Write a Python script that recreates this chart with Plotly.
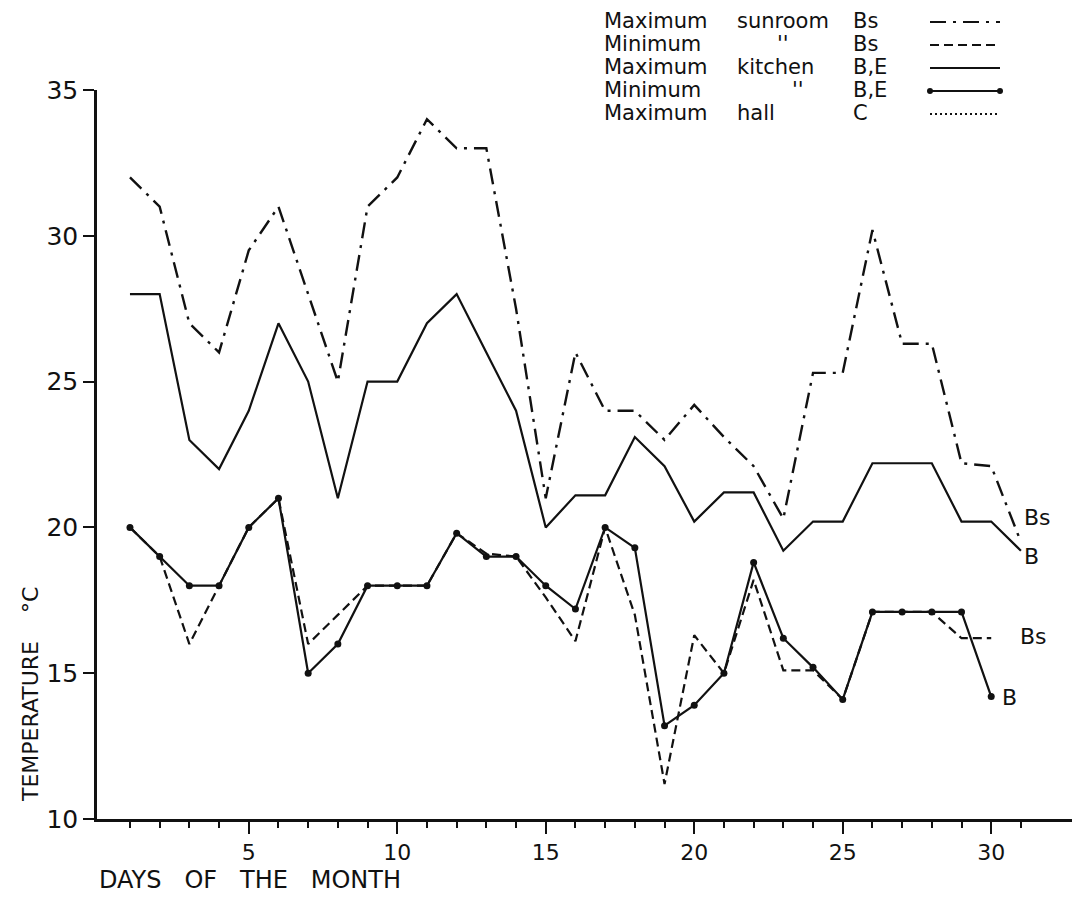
import plotly.graph_objects as go

# ---------------- data ----------------
days = list(range(1, 32))
days30 = list(range(1, 31))

sunroom_max = [32, 31, 27, 26, 29.5, 31, 28, 25, 31, 32, 34, 33, 33, 27.5, 21, 26,
               24, 24, 23, 24.2, 23.1, 22.1, 20.3, 25.3, 25.3, 30.2, 26.3, 26.3,
               22.2, 22.1, 19.5]
sunroom_min = [20, 19, 16, 18, 20, 21, 16, 17, 18, 18, 18, 19.8, 19.1, 19, 17.6, 16.1,
               20, 17, 11.2, 16.3, 15, 18.2, 15.1, 15.1, 14.1, 17.1, 17.1, 17.1,
               16.2, 16.2]
kitchen_max = [28, 28, 23, 22, 24, 27, 25, 21, 25, 25, 27, 28, 26, 24, 20, 21.1,
               21.1, 23.1, 22.1, 20.2, 21.2, 21.2, 19.2, 20.2, 20.2, 22.2, 22.2, 22.2,
               20.2, 20.2, 19.2]
kitchen_min = [20, 19, 18, 18, 20, 21, 15, 16, 18, 18, 18, 19.8, 19, 19, 18, 17.2,
               20, 19.3, 13.2, 13.9, 15, 18.8, 16.2, 15.2, 14.1, 17.1, 17.1, 17.1,
               17.1, 14.2]

y_ticks = [10, 15, 20, 25, 30, 35]
x_ticks = [5, 10, 15, 20, 25, 30]

legend_rows = [
    ("Maximum", "sunroom", "Bs"),
    ("Minimum", "''", "Bs"),
    ("Maximum", "kitchen", "B,E"),
    ("Minimum", "''", "B,E"),
    ("Maximum", "hall", "C"),
]

# ---------------- styles ----------------
FONT = "DejaVu Sans"
INK = "#111111"
DASHDOT = "16px,7px,3px,7px"
DASHED = "9px,5px"
DOTTED = "2px,3px"

W, H = 1072, 901
PL, PR, PT, PB = 97, 1072, 90, 819


def px(x):
    return (x - PL) / (PR - PL)


def py(y):
    return (PB - y) / (PB - PT)


fig = go.Figure()

fig.add_trace(go.Scatter(x=days, y=sunroom_max, mode="lines",
                         line=dict(color=INK, width=2.4, dash=DASHDOT),
                         name="Maximum sunroom Bs", showlegend=False))
fig.add_trace(go.Scatter(x=days30, y=sunroom_min, mode="lines",
                         line=dict(color=INK, width=2.2, dash=DASHED),
                         name="Minimum sunroom Bs", showlegend=False))
fig.add_trace(go.Scatter(x=days, y=kitchen_max, mode="lines",
                         line=dict(color=INK, width=2.2),
                         name="Maximum kitchen B,E", showlegend=False))
fig.add_trace(go.Scatter(x=days30, y=kitchen_min, mode="lines+markers",
                         line=dict(color=INK, width=2.2),
                         marker=dict(color=INK, size=7),
                         name="Minimum kitchen B,E", showlegend=False))

annotations = []
shapes = []

# line end labels
end_labels = [
    (31.05, 20.35, "Bs"),
    (31.05, 19.0, "B"),
    (30.9, 16.25, "Bs"),
    (30.3, 14.15, "B"),
]
for x, y, t in end_labels:
    annotations.append(dict(x=x, y=y, xref="x", yref="y", text=t, showarrow=False,
                            xanchor="left", yanchor="middle",
                            font=dict(family=FONT, size=22, color=INK)))

# custom legend (text left, sample right)
row_y = [21, 44, 67, 90, 113]
col_x = [602, 735, 851]
ditto_x = {1: 775, 3: 790}
for i, (a, b, c) in enumerate(legend_rows):
    yy = py(row_y[i])
    for j, t in enumerate((a, b, c)):
        xx = col_x[j]
        if j == 1 and t == "''":
            xx = ditto_x[i]
        annotations.append(dict(x=px(xx), y=yy, xref="paper", yref="paper", text=t,
                                showarrow=False, xanchor="left", yanchor="middle",
                                font=dict(family=FONT, size=21, color=INK)))

sample_styles = [
    dict(dash=DASHDOT, dots=False),
    dict(dash=DASHED, dots=False),
    dict(dash="solid", dots=False),
    dict(dash="solid", dots=True),
    dict(dash=DOTTED, dots=False),
]
sx0, sx1 = 930, 1000
for i, st in enumerate(sample_styles):
    yy = py(row_y[i] + 1)
    shapes.append(dict(type="line", xref="paper", yref="paper",
                       x0=px(sx0), x1=px(sx1), y0=yy, y1=yy,
                       line=dict(color=INK, width=2, dash=st["dash"])))
    if st["dots"]:
        for cx in (sx0, sx1):
            shapes.append(dict(type="circle", xref="paper", yref="paper",
                               x0=px(cx - 3), x1=px(cx + 3),
                               y0=py(row_y[i] + 4), y1=py(row_y[i] - 2),
                               fillcolor=INK, line=dict(color=INK, width=0)))

# axis titles
annotations.append(dict(x=px(97), y=py(880), xref="paper", yref="paper",
                        text="DAYS\u00a0\u00a0 OF\u00a0\u00a0 THE\u00a0\u00a0 MONTH",
                        showarrow=False, xanchor="left", yanchor="middle",
                        font=dict(family=FONT, size=24, color=INK)))
annotations.append(dict(x=px(30), y=py(695), xref="paper", yref="paper",
                        text="TEMPERATURE\u00a0\u00a0\u00a0 \u00b0C", textangle=-90,
                        showarrow=False, xanchor="center", yanchor="middle",
                        font=dict(family=FONT, size=22, color=INK)))

fig.update_layout(
    width=W, height=H,
    margin=dict(l=PL, r=W - PR, t=PT, b=H - PB, pad=0),
    paper_bgcolor="white", plot_bgcolor="white",
    showlegend=False,
    annotations=annotations,
    shapes=shapes,
    font=dict(family=FONT, color=INK),
)

fig.update_xaxes(
    range=[-0.11, 32.72], showgrid=False, zeroline=False,
    showline=True, linecolor=INK, linewidth=2.5,
    tickmode="array", tickvals=x_ticks, ticktext=[str(v) for v in x_ticks],
    ticks="outside", ticklen=12, tickwidth=2, tickcolor=INK,
    tickfont=dict(family=FONT, size=22, color=INK),
    minor=dict(tickmode="array", tickvals=days, ticks="outside", ticklen=6,
               tickwidth=2, tickcolor=INK, showgrid=False),
)
fig.update_yaxes(
    range=[10, 35], showgrid=False, zeroline=False,
    showline=True, linecolor=INK, linewidth=2.5,
    tickmode="array", tickvals=y_ticks, ticktext=[str(v) for v in y_ticks],
    ticks="outside", ticklen=11, tickwidth=2, tickcolor=INK,
    tickfont=dict(family=FONT, size=25, color=INK),
)

fig.write_html("out.html")
